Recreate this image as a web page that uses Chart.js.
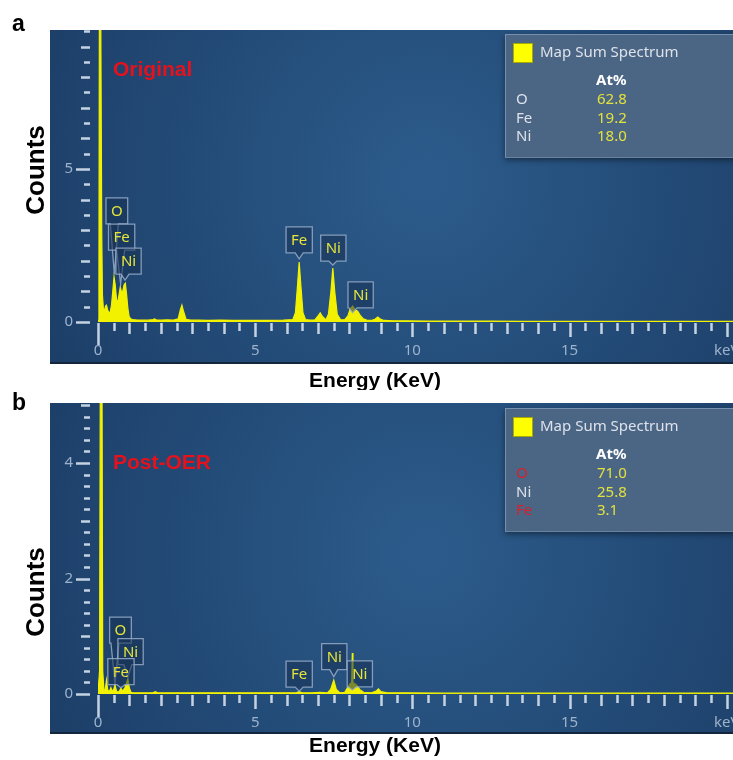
<!DOCTYPE html>
<html>
<head>
<meta charset="utf-8">
<script src="https://cdn.jsdelivr.net/npm/chart.js@4.4.1/dist/chart.umd.min.js"></script>
<style>
  html, body { margin: 0; padding: 0; background: #fff; }
  #wrap { position: relative; width: 733px; height: 760px; overflow: hidden; }
  #wrap canvas { position: absolute; left: 0; }
  #chartA { top: 0; }
  #chartB { top: 390px; }
</style>
</head>
<body>
<div id="wrap">
  <canvas id="chartA" width="733" height="390"></canvas>
  <canvas id="chartB" width="733" height="370"></canvas>
</div>
<script>
// EDS map sum spectra, original electrode (a) and after OER (b)

// --- spectrum a: energy (keV) / counts
const energyA = [
  0, 0.03, 0.05, 0.07, 0.12, 0.14, 0.17, 0.2, 0.24, 0.27,
  0.31, 0.35, 0.39, 0.43, 0.47, 0.51, 0.55, 0.59, 0.63, 0.67,
  0.71, 0.75, 0.79, 0.83, 0.87, 0.91, 0.95, 0.99, 1.04, 1.1,
  1.2, 1.4, 1.6, 1.75, 1.8, 1.85, 2.0, 2.2, 2.4, 2.55,
  2.62, 2.67, 2.72, 2.8, 2.95, 3.2, 3.5, 3.9, 4.3, 4.7,
  5.1, 5.5, 5.9, 6.2, 6.28, 6.34, 6.4, 6.46, 6.52, 6.6,
  6.75, 6.9, 7.0, 7.07, 7.14, 7.25, 7.33, 7.41, 7.47, 7.53,
  7.61, 7.72, 7.85, 7.95, 8.02, 8.1, 8.18, 8.26, 8.34, 8.44,
  8.55, 8.7, 8.82, 8.9, 8.98, 9.1, 9.4, 9.8, 10.5, 11.5,
  12.5, 13.5, 14.5, 15.5, 16.5, 17.5, 18.5, 19.5, 20.2
];
const countsA = [
  0.05, 1.5, 14, 14, 2.8, 0.9, 0.45, 0.35, 0.52, 0.55,
  0.38, 0.3, 0.33, 0.55, 1.0, 1.48, 1.2, 0.72, 0.66, 0.9,
  1.15, 0.95, 1.02, 1.22, 1.27, 0.9, 0.45, 0.18, 0.1, 0.08,
  0.07, 0.06, 0.06, 0.08, 0.1, 0.07, 0.06, 0.07, 0.06, 0.1,
  0.4, 0.55, 0.35, 0.09, 0.06, 0.06, 0.05, 0.06, 0.05, 0.05,
  0.05, 0.05, 0.06, 0.08, 0.3, 1.1, 1.96, 1.1, 0.3, 0.08,
  0.06, 0.07, 0.2, 0.3, 0.18, 0.07, 0.25, 1.0, 1.76, 1.0,
  0.25, 0.07, 0.08, 0.2, 0.42, 0.52, 0.4, 0.35, 0.22, 0.1,
  0.06, 0.05, 0.1, 0.16, 0.1, 0.05, 0.04, 0.04, 0.03, 0.03,
  0.03, 0.02, 0.02, 0.02, 0.02, 0.02, 0.02, 0.02, 0.02
];

// --- spectrum b
const energyB = [
  0, 0.05, 0.08, 0.12, 0.15, 0.19, 0.23, 0.27, 0.31, 0.36,
  0.41, 0.46, 0.5, 0.54, 0.59, 0.64, 0.69, 0.73, 0.78, 0.85,
  0.95, 1.0, 1.05, 1.1, 1.3, 1.6, 1.75, 1.82, 1.9, 2.2,
  2.6, 3.0, 3.5, 4.0, 4.5, 5.0, 5.5, 6.0, 6.3, 6.4,
  6.5, 6.8, 7.05, 7.3, 7.4, 7.5, 7.58, 7.7, 7.85, 7.95,
  8.02, 8.07, 8.09, 8.11, 8.16, 8.24, 8.32, 8.45, 8.7, 8.85,
  8.92, 9.0, 9.2, 9.8, 11, 13, 15, 17, 19, 20.2
];
const countsB = [
  0.02, 0.4, 7, 7, 0.4, 0.05, 0.08, 0.24, 0.07, 0.04,
  0.11, 0.04, 0.08, 0.16, 0.05, 0.03, 0.06, 0.1, 0.05, 0.1,
  0.26, 0.1, 0.03, 0.02, 0.02, 0.02, 0.02, 0.04, 0.02, 0.02,
  0.02, 0.02, 0.02, 0.02, 0.02, 0.02, 0.02, 0.02, 0.02, 0.04,
  0.02, 0.02, 0.03, 0.02, 0.08, 0.24, 0.08, 0.02, 0.03, 0.12,
  0.18, 0.2, 0.71, 0.2, 0.18, 0.15, 0.08, 0.03, 0.02, 0.05,
  0.09, 0.04, 0.02, 0.02, 0.015, 0.015, 0.015, 0.015, 0.015, 0.015
];

// peak markers: element, line energy, count where the callout points
const peakNamesA = ['O', 'Fe', 'Ni', 'Fe', 'Ni', 'Ni'];
const peakEnergyA = [0.52, 0.72, 0.86, 6.40, 7.47, 8.10];
const peakTipA = [1.57, 1.24, 1.37, 2.06, 1.86, 0.30];

const peakNamesB = ['O', 'Ni', 'Fe', 'Fe', 'Ni', 'Ni'];
const peakEnergyB = [0.54, 0.95, 0.73, 6.40, 7.50, 8.09];
const peakTipB = [0.17, 0.30, 0.11, 0.05, 0.30, 0.07];

// quantification tables
const elementsA = ['O', 'Fe', 'Ni'];
const atPctA = ['62.8', '19.2', '18.0'];
const elementsB = ['O', 'Ni', 'Fe'];
const atPctB = ['71.0', '25.8', '3.1'];

// axis labels
const xTickLabels = { 0: '0', 5: '5', 10: '10', 15: '15', 20: 'keV' };
const yLabelsA = [0, 5];
const yLabelsB = [0, 2, 4];

const FONT_UI = '"Noto Sans", "Open Sans", sans-serif';
const FONT_FIG = '"Liberation Sans", Arial, sans-serif';
const YELLOW = '#f2f200';
const TICK_MARK = '#c4d2e2';
const TICK_TEXT = '#9db3cc';

// callout box offsets (px) relative to the pointer tip
const calloutA = [
  { dx: 2.5, len: 50 }, { dx: 1, len: 34 }, { dx: 3.5, len: 6 },
  { dx: 0, len: 6 }, { dx: 0.5, len: 4 }, { dx: 8, len: 5 }
];
const calloutB = [
  { dx: 5.5, len: 41 }, { dx: 2.7, len: 12 }, { dx: 0, len: 3 },
  { dx: 0, len: 4 }, { dx: 0.5, len: 7 }, { dx: 7.5, len: 3 }
];

const r1 = v => Math.round(v * 10) / 10;

function panelPlugin(p) {
  return {
    id: 'eds' + p.tag,
    beforeDraw(chart) {
      const { ctx, chartArea: a } = chart;
      const x0 = a.left - 48, y0 = a.top, x1 = a.right, y1 = a.bottom + p.blueBelow;
      const w = x1 - x0, h = y1 - y0;
      ctx.save();
      const g = ctx.createRadialGradient(x0 + w * 0.55, y0 + h * 0.45, 10, x0 + w * 0.55, y0 + h * 0.45, w * 0.62);
      g.addColorStop(0, '#2c5b8b');
      g.addColorStop(1, '#1c3e67');
      ctx.fillStyle = g;
      ctx.fillRect(x0, y0, w, h);
      ctx.fillStyle = '#14263c';
      ctx.fillRect(x0, y1 - 2, w, 2);
      ctx.restore();
    },
    beforeDatasetsDraw(chart) {
      const { ctx, chartArea: a, scales: { x, y } } = chart;
      ctx.save();
      ctx.strokeStyle = TICK_MARK;
      ctx.lineWidth = 2.5;
      ctx.beginPath();
      x.ticks.forEach(t => {
        const v = r1(t.value);
        const len = v === 0 ? 22 : v % 5 === 0 ? 14 : Number.isInteger(v) ? 11 : 8;
        const px = Math.round(x.getPixelForValue(t.value)) + 0.5;
        ctx.moveTo(px, a.bottom + 1);
        ctx.lineTo(px, a.bottom + 1 + len);
      });
      y.ticks.forEach(t => {
        const v = r1(t.value);
        const len = p.yLabels.includes(v) ? 14 : Number.isInteger(v) ? 9 : 6;
        const py = Math.round(y.getPixelForValue(t.value)) + 0.5;
        ctx.moveTo(a.left - 8, py);
        ctx.lineTo(a.left - 8 - len, py);
      });
      ctx.stroke();
      ctx.restore();
    },
    afterDatasetsDraw(chart) {
      const { ctx, scales: { x, y } } = chart;
      ctx.save();
      ctx.font = '15px ' + FONT_UI;
      ctx.textAlign = 'center';
      ctx.textBaseline = 'middle';
      p.peakNames.forEach((name, i) => {
        const c = p.callouts[i];
        const tx = x.getPixelForValue(p.peakEnergy[i]);
        const ty = y.getPixelForValue(p.peakTip[i]);
        const w = Math.max(ctx.measureText(name).width + 10, 21), h = 26;
        const bx = tx + c.dx - w / 2, by = ty - c.len - h;
        const px = Math.min(Math.max(tx, bx + 5), bx + w - 5);
        ctx.beginPath();
        ctx.moveTo(bx, by);
        ctx.lineTo(bx + w, by);
        ctx.lineTo(bx + w, by + h);
        ctx.lineTo(px + 4, by + h);
        ctx.lineTo(tx, ty);
        ctx.lineTo(px - 4, by + h);
        ctx.lineTo(bx, by + h);
        ctx.closePath();
        ctx.fillStyle = 'rgba(24,50,84,0.55)';
        ctx.fill();
        ctx.strokeStyle = 'rgba(150,172,200,0.85)';
        ctx.lineWidth = 1.3;
        ctx.stroke();
        ctx.fillStyle = '#e4e43a';
        ctx.fillText(name, bx + w / 2, by + h / 2 + 1);
      });
      ctx.restore();
    },
    afterDraw(chart) {
      const { ctx, chartArea: a } = chart;
      ctx.save();

      // quantification box
      const lx = a.right - 228, ly = a.top + p.legendDy, lw = 240, lh = 123;
      ctx.shadowColor = 'rgba(0,0,0,0.45)';
      ctx.shadowBlur = 6;
      ctx.shadowOffsetY = 3;
      ctx.fillStyle = '#4b6585';
      ctx.fillRect(lx, ly, lw, lh);
      ctx.shadowColor = 'transparent';
      ctx.strokeStyle = 'rgba(140,162,190,0.7)';
      ctx.lineWidth = 1;
      ctx.strokeRect(lx + 0.5, ly + 0.5, lw, lh);
      ctx.fillStyle = '#ffff00';
      ctx.fillRect(lx + 8, ly + 9, 20, 20);
      ctx.strokeStyle = '#a8a800';
      ctx.strokeRect(lx + 8.5, ly + 9.5, 19, 19);
      ctx.textBaseline = 'middle';
      ctx.textAlign = 'left';
      ctx.font = '15px ' + FONT_UI;
      ctx.fillStyle = '#dde2ea';
      ctx.fillText('Map Sum Spectrum', lx + 35, ly + 19);
      ctx.font = 'bold 15px ' + FONT_UI;
      ctx.fillStyle = '#ffffff';
      ctx.fillText('At%', lx + 91, ly + 47);
      ctx.font = '15px ' + FONT_UI;
      p.elements.forEach((el, i) => {
        const ry = ly + 66 + i * 18.5;
        ctx.fillStyle = p.elementColors[i];
        ctx.fillText(el, lx + 11, ry);
        ctx.fillStyle = '#e2e23c';
        ctx.fillText(p.atPct[i], lx + 92, ry);
      });

      // sample tag
      ctx.font = 'bold 21px ' + FONT_FIG;
      ctx.fillStyle = '#e3121c';
      ctx.fillText(p.sample, p.sampleX, p.sampleY);

      // panel letter
      ctx.font = 'bold 23px ' + FONT_FIG;
      ctx.fillStyle = '#000';
      ctx.fillText(p.tag, 12, p.tagY);

      // axis titles
      ctx.font = 'bold 21px ' + FONT_FIG;
      ctx.textAlign = 'center';
      ctx.fillText('Energy (KeV)', 375, p.xTitleY);
      ctx.translate(37, p.yTitleY);
      ctx.rotate(-Math.PI / 2);
      ctx.font = 'bold 26px ' + FONT_FIG;
      ctx.fillText('Counts', 0, 0);
      ctx.restore();
    }
  };
}

function buildSpectrum(canvasId, p) {
  return new Chart(document.getElementById(canvasId), {
    type: 'line',
    data: {
      datasets: [{
        data: p.energy.map((e, i) => ({ x: e, y: p.counts[i] })),
        borderColor: YELLOW,
        backgroundColor: YELLOW,
        borderWidth: 1.2,
        pointRadius: 0,
        tension: 0,
        fill: 'origin'
      }]
    },
    options: {
      responsive: false,
      animation: false,
      layout: { padding: { left: 50, top: p.top, right: 0, bottom: 0 } },
      plugins: { legend: { display: false }, tooltip: { enabled: false } },
      scales: {
        x: {
          type: 'linear',
          min: 0,
          max: 20.2,
          grid: { display: false, drawTicks: false },
          border: { display: false },
          ticks: {
            stepSize: 0.5,
            includeBounds: false,
            autoSkip: false,
            maxRotation: 0,
            padding: 20,
            color: TICK_TEXT,
            font: { family: FONT_UI, size: 15 },
            callback: v => xTickLabels[r1(v)] ?? ''
          },
          afterBuildTicks: s => { s.ticks = s.ticks.filter(t => t.value <= 20.001); },
          afterFit: s => { s.height = p.xAxisHeight; s.paddingLeft = 0; s.paddingRight = 0; }
        },
        y: {
          min: 0,
          max: p.yMax,
          grid: { display: false, drawTicks: false },
          border: { display: false },
          ticks: {
            stepSize: p.yStep,
            includeBounds: false,
            autoSkip: false,
            padding: 25,
            color: TICK_TEXT,
            font: { family: FONT_UI, size: 15 },
            callback: v => p.yLabels.includes(r1(v)) ? String(r1(v)) : ''
          },
          afterFit: s => { s.width = 48; s.paddingTop = 0; s.paddingBottom = 0; }
        }
      }
    },
    plugins: [panelPlugin(p)]
  });
}

buildSpectrum('chartA', {
  tag: 'a', energy: energyA, counts: countsA,
  peakNames: peakNamesA, peakEnergy: peakEnergyA, peakTip: peakTipA, callouts: calloutA,
  elements: elementsA, atPct: atPctA, elementColors: ['#dde2ea', '#dde2ea', '#dde2ea'],
  yMax: 9.54, yStep: 0.5, yLabels: yLabelsA,
  top: 30, xAxisHeight: 68, blueBelow: 42, legendDy: 4,
  sample: 'Original', sampleX: 113, sampleY: 70,
  tagY: 25, xTitleY: 381, yTitleY: 170
});

buildSpectrum('chartB', {
  tag: 'b', energy: energyB, counts: countsB,
  peakNames: peakNamesB, peakEnergy: peakEnergyB, peakTip: peakTipB, callouts: calloutB,
  elements: elementsB, atPct: atPctB, elementColors: ['#d8202c', '#dde2ea', '#d8202c'],
  yMax: 5.04, yStep: 0.2, yLabels: yLabelsB,
  top: 13, xAxisHeight: 66, blueBelow: 40, legendDy: 5,
  sample: 'Post-OER', sampleX: 113, sampleY: 73,
  tagY: 14, xTitleY: 356, yTitleY: 202
});
</script>
</body>
</html>
